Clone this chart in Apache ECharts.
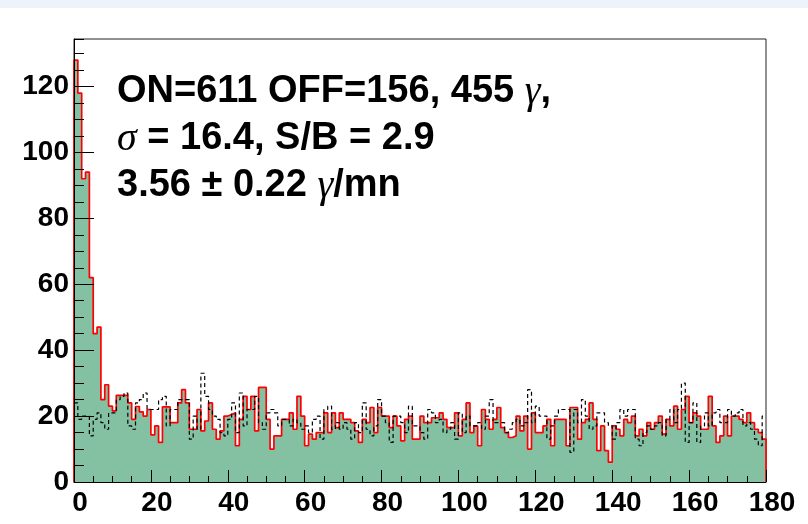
<!DOCTYPE html>
<html><head><meta charset="utf-8">
<script src="https://cdn.jsdelivr.net/npm/echarts/dist/echarts.min.js"></script>
<style>html,body{margin:0;padding:0;background:#fff}#c{width:808px;height:524px}</style>
</head><body><div id="c"></div>
<script>
// ---- data (bin width 1, 180 bins from 0 to 180) ----
const xRange = [0, 180];
const yMax = 134.4;
const xTickStep = 20;
const yTickStep = 20;

const onCounts = [
  128,118,92,94,62,45,47,25,29.5,23,
  21.6,26.3,26.3,26.3,24,19,22.9,21.3,20,22,
  14.3,17,12,22.8,22.8,18,18,24,28,24,
  16,16,22,15.5,18.5,24,16,13,15.5,20,
  20.5,21,11,19,26,22,26,15.5,28.7,28.7,
  19,10,14,14,19,19,21,16,26,20,
  11,14.5,13,15,15,21,15,21,16.5,21,
  19,19,18,15.5,12,19,18,22.6,15,22.6,
  20,20,16.5,20,17,12.5,19,20,13,13,
  20,18,18,19.5,19.5,21,19,16.5,16.5,21,
  14,19,24,15,17,11,22,19,16,19,
  22.6,16.5,15,13.5,14,20,15.5,20,10,21,
  15,15,17,19,11,19,19,19,11,22.6,
  22.6,13,18,19,24,19,9.5,17,9.5,6,
  17,16,14,19,18,20,14,16,14,18,
  16,18,20,14.5,19,17,23,16,22,26,
  18,21,20,16,16,26,17,12,14,20,
  14,20,20,19,18,21,18,16,15,13
];

const offCounts = [
  24,19,20,20,14,19,21,18,16,21,
  21,25,26,27,17,16,24,25,27,22,
  22,22,25,26,17,22,22,25,25,25,
  13,20,16,33,26,22,20,19,15,14,
  19,24,15,27,17,22,22,26,18,16,
  21,22,21,17,19,19,17,19,18,16,
  17,15,19,20,13,22,23,16,18,16,
  18,16,13,18,15,24,16,14,17,25,
  20,18,12,20,20,18,15,23,17,17,
  15,13,22,21,18,19,15,16,18,13,
  21,15,20,17,17,18,16,20,25,18,
  18,18,15,16,18,19,17,18,28,18,
  23,20,20,13,17,20,22,22,22,9,
  22,18,25,20,16,17,21,21,18,17,
  13,18,22,20,22,22,13,11,15,17,
  16,17,18,14,19,22,18,22,30,12,
  18,24,12,17,21,17,21,22,18,18,
  22,20,21,22,17,18,16,13,11,20
];

const infoLines = [
  '{b|ON=611 OFF=156, 455 }{g|γ}{b|,}',
  '{g|σ}{b| = 16.4, S/B = 2.9}',
  '{b|3.56 ± 0.22 }{g|γ}{b|/mn}'
];

// ---- build step outlines from the bin arrays ----
function stepData(vals, closed) {
  const d = [];
  if (closed) d.push([xRange[0], 0]);
  vals.forEach((v, i) => d.push([xRange[0] + i, v]));
  d.push([xRange[0] + vals.length, vals[vals.length - 1]]);
  if (closed) d.push([xRange[0] + vals.length, 0]);
  return d;
}

const FONT = 'Liberation Sans';
const labelStyle = { fontFamily: FONT, fontWeight: 'bold', fontSize: 28, color: '#000' };
const richStyle = {
  b: { fontFamily: FONT, fontWeight: 'bold', fontSize: 38, fill: '#000' },
  g: { fontFamily: 'Liberation Serif', fontStyle: 'italic', fontSize: 40, fill: '#000' }
};

const chart = echarts.init(document.getElementById('c'), null, { renderer: 'canvas' });
chart.setOption({
  animation: false,
  backgroundColor: '#fff',
  grid: { left: 74, right: 42, top: 39, bottom: 42, show: true, borderColor: '#222', borderWidth: 1, containLabel: false, outerBoundsMode: 'none' },
  xAxis: [{
    type: 'value', min: xRange[0], max: xRange[1], interval: xTickStep, z: 10,
    axisLine: { show: true, onZero: false, lineStyle: { color: '#000', width: 1 } },
    axisTick: { show: true, inside: true, length: 12, lineStyle: { color: '#000' } },
    minorTick: { show: true, splitNumber: 4, length: 6, lineStyle: { color: '#000' } },
    axisLabel: Object.assign({ margin: 7, padding: [0, 0, 0, 12] }, labelStyle),
    splitLine: { show: false }, minorSplitLine: { show: false }
  }],
  yAxis: [{
    type: 'value', min: 0, max: yMax, interval: yTickStep, z: 10,
    axisLine: { show: true, onZero: false, lineStyle: { color: '#000', width: 1 } },
    axisTick: { show: true, inside: true, length: 20, lineStyle: { color: '#000' } },
    axisLabel: Object.assign({ margin: 5, showMaxLabel: false }, labelStyle),
    splitLine: { show: false }
  }, {
    type: 'value', min: 0, max: yMax, interval: 5, position: 'left', z: 10,
    axisLine: { show: false },
    axisTick: { show: true, inside: true, length: 10, lineStyle: { color: '#000' } },
    axisLabel: { show: false },
    splitLine: { show: false }
  }],
  series: [{
    name: 'ON', type: 'line', step: 'end', xAxisIndex: 0, yAxisIndex: 0,
    data: stepData(onCounts, true), showSymbol: false, clip: false, z: 2,
    lineStyle: { color: '#ff0000', width: 1.7 },
    areaStyle: { color: '#84c1a3', opacity: 1 }
  }, {
    name: 'OFF', type: 'line', step: 'end', xAxisIndex: 0, yAxisIndex: 0,
    data: stepData(offCounts, false), showSymbol: false, clip: true, z: 3,
    lineStyle: { color: '#000', width: 1.2, type: [4, 3] }
  }],
  graphic: [
    { type: 'rect', silent: true, shape: { x: 0, y: 0, width: 808, height: 8 }, style: { fill: '#eef2fa' } },
    { type: 'text', x: 117, y: 92, style: { text: infoLines[0], rich: richStyle, verticalAlign: 'middle' } },
    { type: 'text', x: 117, y: 139, style: { text: infoLines[1], rich: richStyle, verticalAlign: 'middle' } },
    { type: 'text', x: 117, y: 186, style: { text: infoLines[2], rich: richStyle, verticalAlign: 'middle' } }
  ]
});
</script></body></html>
